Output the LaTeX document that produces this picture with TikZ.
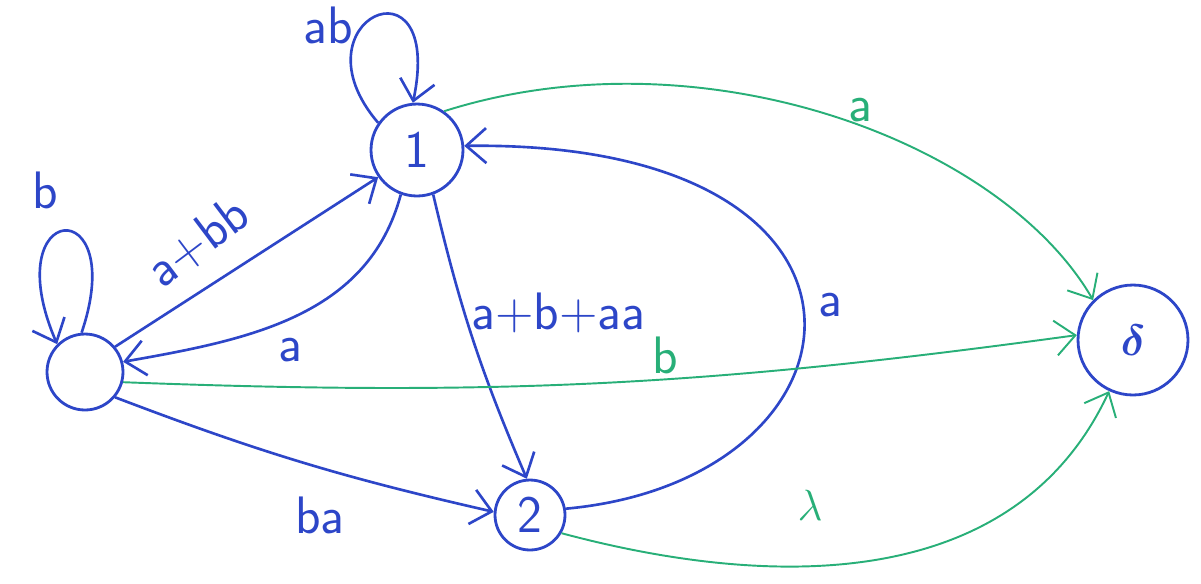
\documentclass[tikz,border=0pt]{standalone}
\usepackage{amsmath}
\usetikzlibrary{arrows.meta, positioning}
\definecolor{inkblue}{RGB}{45,70,200}
\definecolor{inkgreen}{RGB}{40,175,120}

\begin{document}
\begin{tikzpicture}[
    x=0.02cm, y=-0.02cm,
    state/.style={circle, draw=inkblue, line width=1.6pt, inner sep=0pt, text=inkblue, font=\sffamily\fontsize{30}{32}\selectfont},
    line/.style={draw=inkblue, line width=1.5pt, -{Straight Barb[length=4mm, width=7mm]}},
    gline/.style={draw=inkgreen, line width=1.1pt, -{Straight Barb[length=4mm, width=7mm]}},
    lbl/.style={text=inkblue, font=\sffamily\fontsize{30}{32}\selectfont},
    glbl/.style={text=inkgreen, font=\sffamily\fontsize{30}{32}\selectfont}
]
    \useasboundingbox (0,0) rectangle (1201,583);

    \node [state, minimum size=1.52cm] (start) at (85,372) {};
    \node [state, minimum size=1.84cm] (one) at (417,150) {1};
    \node [state, minimum size=1.4cm] (two) at (530,515) {2};
    \node [state, minimum size=2.2cm] (final) at (1133,340) {$\boldsymbol{\delta}$};

    % loops
    \path [line] (start.95) .. controls (130,190) and (-5,200) .. (start.135);
    \node [lbl] at (45,190) {b};
    \path [line] (one.145) .. controls (290,20) and (445,-50) .. (one.95);
    \node [lbl] at (328,25) {ab};

    % blue transitions
    \path [line] (start.40) -- (one.215);
    \node [lbl, rotate=37] at (198,242) {a+bb};
    \path [line] (one.250) to [out=255, in=10] (start.15);
    \node [lbl] at (290,350) {a};
    \path [line] (one.290) to [bend right=5] node [lbl, right, pos=0.4] {a+b+aa} (two.95);
    \path [line] (two.10) .. controls (880,480) and (920,140) .. (one.5);
    \node [lbl] at (830,305) {a};
    \path [line] (start.-40) to [bend right=4] (two.175);
    \node [lbl] at (320,515) {ba};

    % green transitions
    \path [gline] (one.55) .. controls (700,30) and (1000,140) .. (final.135);
    \node [glbl] at (860,110) {a};
    \path [gline] (start.-15) to [bend right=5] (final.175);
    \node [glbl] at (665,355) {b};
    \path [gline] (two.-30) to [out=-15, in=245] (final.245);
    \node [glbl] at (810,505) {$\lambda$};
\end{tikzpicture}
\end{document}
